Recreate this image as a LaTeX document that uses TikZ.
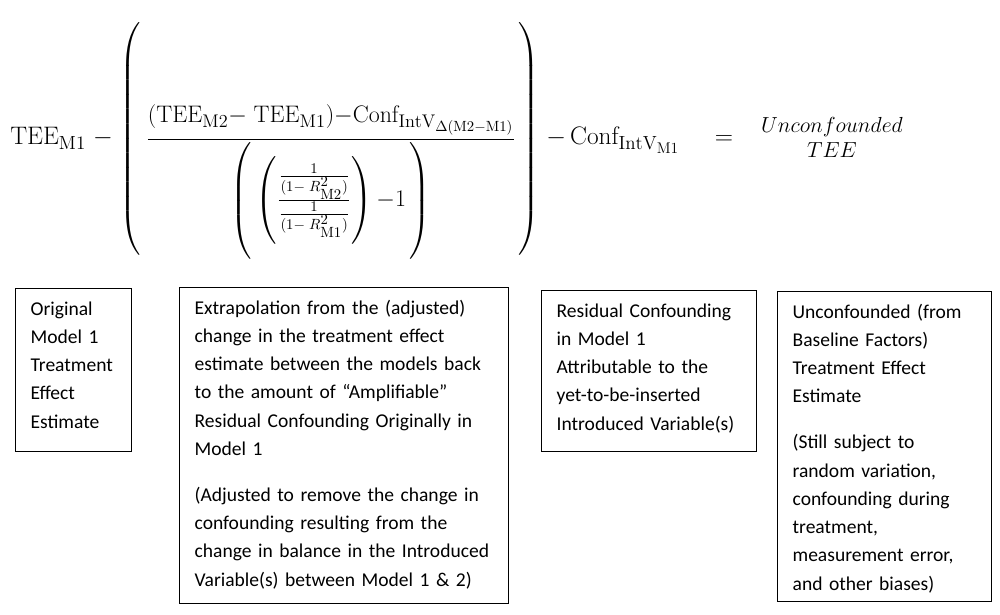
\documentclass[tikz,border=0pt]{standalone}
\usepackage{fix-cm}
\usepackage{amsmath}
\usepackage{fontspec}
\newfontfamily\boxfont{Carlito}
\DeclareMathSizes{18}{18}{13.5}{11}
\DeclareMathSizes{17}{17}{13}{10.5}
\DeclareMathSizes{15.5}{15.5}{11}{8}
\delimiterfactor=1000
\delimitershortfall=0pt
\newcommand{\rmsub}[1]{\mathrm{#1}}
\newcommand{\bigdelim}[2]{$\left#1\vcenter{\hbox{\rule{0pt}{#2}}}\right.$}
\tikzset{
	capbox/.style = {draw, line width=0.9pt, anchor=north west, align=left,
		inner xsep=0.375cm, inner ysep=0pt, text height=0.6625cm,
		font=\boxfont\fontsize{13.9}{20.1}\selectfont},
	eqn/.style = {inner sep=0pt, anchor=base west, font=\fontsize{18}{22}\selectfont}
}
\begin{document}
\begin{tikzpicture}[x=0.025cm, y=-0.025cm]
	\useasboundingbox (0,0) rectangle (1000,615);
	% the formula
	\node[eqn] (teem) at (10,145) {$\rmsub{TEE}_{\rmsub{M1}}\;{-}$};
	\node[eqn] (lparen) at (119,145) {\bigdelim{(}{5.5cm}};
	\node[eqn, font=\fontsize{17}{20}\selectfont] (ratio) at (146,145) {$\displaystyle
		\frac{(\rmsub{TEE}_{\rmsub{M2}}{-}\;\rmsub{TEE}_{\rmsub{M1}}){-}\rmsub{Conf}_{\rmsub{IntV}_{\Delta(\rmsub{M2}-\rmsub{M1})}}}
		{\left(\vcenter{\hbox{\rule{0pt}{2.75cm}}}\left(\frac{\frac{1}{(1{-}\;R^2_{\rmsub{M2}})}}{\frac{1}{(1{-}\;R^2_{\rmsub{M1}})}}\right){-}1\,\right)}$};
	\node[eqn] (rparen) at (518,145) {\bigdelim{)}{5.5cm}};
	\node[eqn] (confm) at (546,145) {$-\,\rmsub{Conf}_{\rmsub{IntV}_{\rmsub{M1}}}\;\;\;\;=$};
	\node[inner sep=0pt, align=center, font=\fontsize{15.5}{17.8}\selectfont] (unconf) at (832,137) {$Unconfounded$\\$TEE$};
	% the captions
	\node[capbox, text width=2.15cm, text depth=3.4125cm] (orig) at (15,288)
		{Original\\Model 1\\Treatment\\Effect\\Estimate};
	\node[capbox, text width=7.475cm, text depth=7.2375cm] (extrap) at (179,287)
		{Extrapolation from the (adjusted)\\change in the treatment effect\\estimate between the models back\\to the amount of “Amplifiable”\\Residual Confounding Originally in\\Model 1\\[12.6pt]
		(Adjusted to remove the change in\\confounding resulting from the\\change in balance in the Introduced\\Variable(s) between Model 1 \& 2)};
	\node[capbox, text width=4.625cm, text depth=3.3625cm] (resid) at (541,290)
		{Residual Confounding\\in Model 1\\Attributable to the\\yet-to-be-inserted\\Introduced Variable(s)};
	\node[capbox, text width=4.6cm, text depth=7.0875cm] (unconfbox) at (777,291)
		{Unconfounded (from\\Baseline Factors)\\Treatment Effect\\Estimate\\[12.6pt]
		(Still subject to\\random variation,\\confounding during\\treatment,\\measurement error,\\and other biases)};
\end{tikzpicture}
\end{document}
